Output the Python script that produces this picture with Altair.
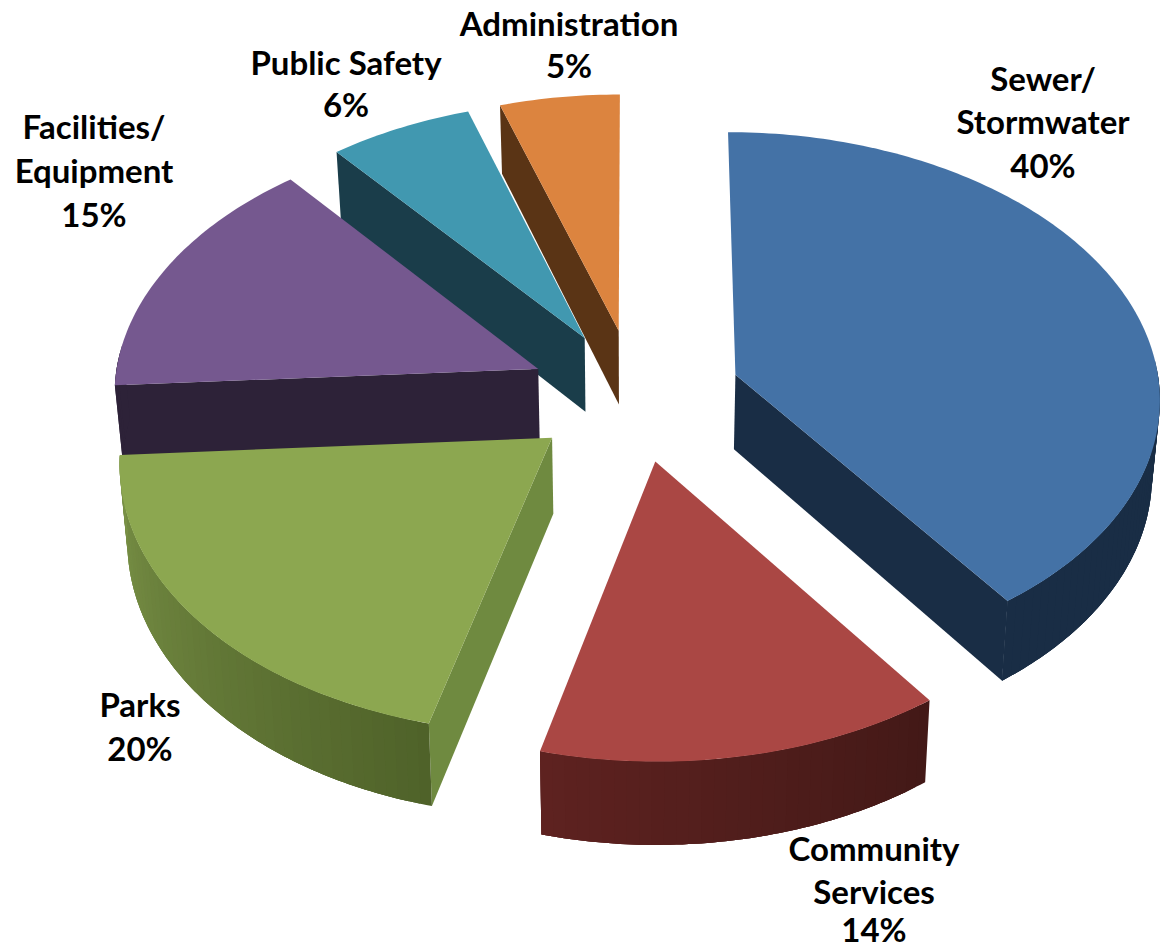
import math
import altair as alt

# Budget shares, clockwise from twelve o'clock
names = ["Sewer/Stormwater", "Community Services", "Parks", "Facilities/Equipment", "Public Safety", "Administration"]
shares = [40, 14, 20, 15, 6, 5]

# Face colours per slice
top_colors = ["#4472A6", "#AA4744", "#8CA750", "#75588F", "#4198B0", "#DC843F"]
wall_colors = ["#192D45", "#4A1C1A", "#6F8A40", "#2D2238", "#1A3D4A", "#5A3415"]
rim_right = ["#192D45", "#431917", "#4F6229", "#2D2238", "#1A3D4A", "#5A3415"]
rim_left = ["#192D45", "#5E2220", "#7A9247", "#2D2238", "#1A3D4A", "#5A3415"]

# Slices are painted back to front
paint_order = [5, 4, 3, 0, 2, 1]

# Label rows
label_rows = [
    "Administration", "5%", "Public Safety", "6%",
    "Facilities/", "Equipment", "15%",
    "Sewer/", "Stormwater", "40%",
    "Community", "Services", "14%",
    "Parks", "20%",
]
label_x = [569, 569, 346, 346, 94, 94, 94, 1043, 1043, 1043, 874, 874, 874, 140, 140]
label_y = [26, 68, 65, 107, 129, 173, 217, 81, 124, 168, 851, 894, 932, 707, 751]

# Perspective model of the exploded disc
CX, CY = 635, 395
RX, RY = 425, 265
PERSP = 0.08
EXPLODE = 0.25
DEPTH = 75
SHRINK = 0.985


def disc_point(t, r, mid):
    u = EXPLODE * math.sin(mid) + r * math.sin(t)
    v = -EXPLODE * math.cos(mid) - r * math.cos(t)
    s = 1 / (1 - PERSP * v)
    return CX + u * RX * s, CY + v * RY * s, s


def top_point(t, r, mid):
    x, y, _ = disc_point(t, r, mid)
    return [x, y]


def low_point(t, r, mid):
    x, y, s = disc_point(t, r, mid)
    return [CX + (x - CX) * SHRINK, y + DEPTH * s]


def mix(a, b, f):
    ca = [int(a[i:i + 2], 16) for i in (1, 3, 5)]
    cb = [int(b[i:i + 2], 16) for i in (1, 3, 5)]
    return "#%02x%02x%02x" % tuple(round(p + (q - p) * f) for p, q in zip(ca, cb))


def face(ring, color):
    ring = ring + [ring[0]]
    return {
        "type": "Feature",
        "geometry": {"type": "Polygon", "coordinates": [ring]},
        "properties": {"fill": color},
    }


total = sum(shares)
starts, acc = [], 0
for value in shares:
    starts.append(acc / total * 2 * math.pi)
    acc += value

faces = []
for i in paint_order:
    a0 = starts[i]
    a1 = a0 + shares[i] / total * 2 * math.pi
    mid = (a0 + a1) / 2
    # Cut faces that turn towards the viewer
    for t, sign in ((a0, -1), (a1, 1)):
        if sign * math.sin(t) > 0.001:
            ring = [top_point(t, 0, mid), top_point(t, 1, mid), low_point(t, 1, mid), low_point(t, 0, mid)]
            faces.append(face(ring, wall_colors[i]))
    # Outer rim: strips overlap the next one so no seam shows through
    steps = max(2, int(math.degrees(a1 - a0) / 1.5))
    width = (a1 - a0) / steps
    for k in range(steps):
        t0 = a0 + width * k
        if math.cos(t0 + width / 2) < 0.05:
            arc = [t0 + width * j / 2 for j in range(7)]
            arc = [t for t in arc if t <= a1 + 1e-9]
            upper = [top_point(t, 1, mid) for t in arc]
            lower = [low_point(t, 1, mid) for t in reversed(arc)]
            faces.append(face(upper + lower, mix(rim_right[i], rim_left[i], (k + 0.5) / steps)))
    # Upper surface
    n = max(4, int(math.degrees(a1 - a0)))
    ring = [top_point(a0, 0, mid)] + [top_point(a0 + (a1 - a0) * k / n, 1, mid) for k in range(n + 1)]
    faces.append(face(ring, top_colors[i]))

slices = (
    alt.Chart(alt.InlineData(values=faces))
    .mark_geoshape(strokeWidth=0)
    .encode(fill=alt.Fill("properties.fill:N", scale=None))
    .project(type="identity", scale=1, translate=[0, 0])
)

labels = (
    alt.Chart(alt.Data(values=[{"t": t, "x": x, "y": y} for t, x, y in zip(label_rows, label_x, label_y)]))
    .mark_text(font="Lato", fontWeight="bold", fontSize=33, color="#000000", align="center", baseline="middle")
    .encode(longitude="x:Q", latitude="y:Q", text="t:N")
    .project(type="identity", scale=1, translate=[0, 0])
)

chart = (
    alt.layer(slices, labels)
    .properties(width=1166, height=951, padding=0, autosize=alt.AutoSizeParams(type="none"))
    .configure_view(stroke=None)
    .configure(background="#FFFFFF")
)

chart.save("out.html", embed_options={"renderer": "svg", "actions": False})
